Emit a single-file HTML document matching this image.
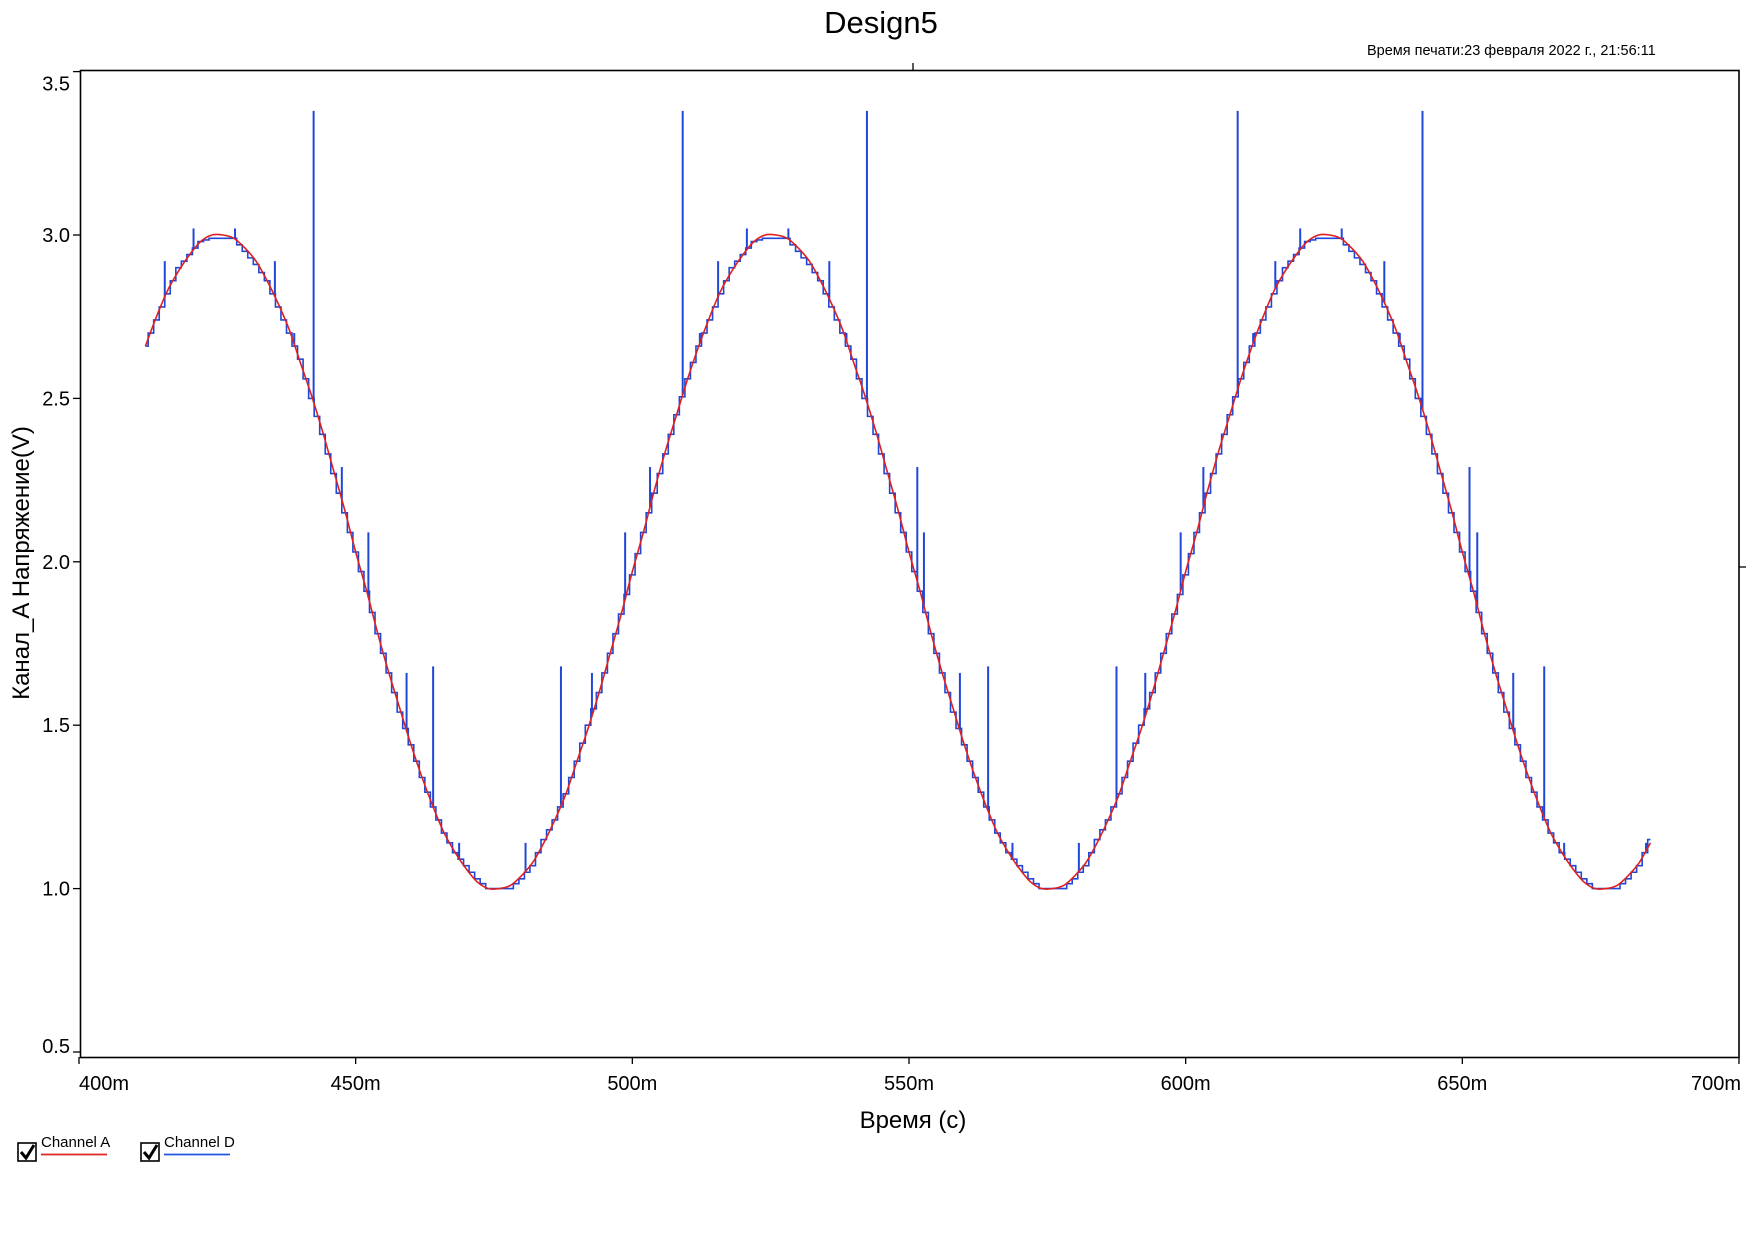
<!DOCTYPE html>
<html><head><meta charset="utf-8">
<style>
html,body{margin:0;padding:0;background:#fff;}
svg{display:block;font-family:"Liberation Sans",sans-serif;}
</style></head>
<body>
<svg id="chart" width="1755" height="1241" viewBox="0 0 1755 1241" xmlns="http://www.w3.org/2000/svg">
<text x="881" y="33" font-size="31" text-anchor="middle" fill="#000">Design5</text>
<text x="1367" y="55" font-size="14.5" fill="#000">Время печати:23 февраля 2022 г., 21:56:11</text>
<rect x="80.5" y="70.5" width="1658.5" height="987" fill="none" stroke="#000" stroke-width="1.6"/>
<line x1="913" y1="63" x2="913" y2="70" stroke="#000" stroke-width="1.3"/>
<line x1="1739" y1="567" x2="1746" y2="567" stroke="#000" stroke-width="1.3"/>
<g id="yticks"></g>
<g id="xticks"></g>
<g id="series"></g>
<text x="913" y="1128" font-size="24" text-anchor="middle" fill="#000">Время (с)</text>
<text transform="translate(29,563) rotate(-90)" font-size="24" text-anchor="middle" fill="#000">Канал_A Напряжение(V)</text>
<g>
<rect x="18" y="1143" width="18" height="18" fill="#fff" stroke="#000" stroke-width="1.6"/>
<path d="M21 1152 L26 1158 L34 1145" fill="none" stroke="#000" stroke-width="3"/>
<text x="41" y="1147" font-size="15" fill="#000">Channel A</text>
<line x1="41" y1="1154.5" x2="107" y2="1154.5" stroke="#e02424" stroke-width="1.8"/>
</g>
<g>
<rect x="141" y="1143" width="18" height="18" fill="#fff" stroke="#000" stroke-width="1.6"/>
<path d="M144 1152 L149 1158 L157 1145" fill="none" stroke="#000" stroke-width="3"/>
<text x="164" y="1147" font-size="15" fill="#000">Channel D</text>
<line x1="164" y1="1154.5" x2="230" y2="1154.5" stroke="#2255dd" stroke-width="1.8"/>
</g>
</svg>
<script>
const yTickValues=[0.5,1.0,1.5,2.0,2.5,3.0,3.5];
const yTickLabels=["0.5","1.0","1.5","2.0","2.5","3.0","3.5"];
const xTickValues=[400,450,500,550,600,650,700];
const xTickLabels=["400m","450m","500m","550m","600m","650m","700m"];
const tStart=412;
const tStep=2;
const channelA=[2.66,2.75,2.83,2.89,2.94,2.98,3.00,3.00,2.99,2.96,2.92,2.86,2.79,2.71,2.61,2.51,2.40,2.28,2.16,2.03,1.91,1.78,1.66,1.55,1.44,1.34,1.25,1.17,1.11,1.06,1.02,1.00,1.00,1.01,1.04,1.08,1.14,1.21,1.29,1.39,1.49,1.60,1.72,1.84,1.97,2.09,2.22,2.34,2.45,2.56,
2.66,2.75,2.83,2.89,2.94,2.98,3.00,3.00,2.99,2.96,2.92,2.86,2.79,2.71,2.61,2.51,2.40,2.28,2.16,2.03,1.91,1.78,1.66,1.55,1.44,1.34,1.25,1.17,1.11,1.06,1.02,1.00,1.00,1.01,1.04,1.08,1.14,1.21,1.29,1.39,1.49,1.60,1.72,1.84,1.97,2.09,2.22,2.34,2.45,2.56,
2.66,2.75,2.83,2.89,2.94,2.98,3.00,3.00,2.99,2.96,2.92,2.86,2.79,2.71,2.61,2.51,2.40,2.28,2.16,2.03,1.91,1.78,1.66,1.55,1.44,1.34,1.25,1.17,1.11,1.06,1.02,1.00,1.00,1.01,1.04,1.08,1.14];
const channelD=[2.66,2.74,2.82,2.90,2.94,2.98,2.99,2.99,2.99,2.95,2.91,2.86,2.78,2.70,2.62,2.50,2.39,2.27,2.15,2.03,1.91,1.78,1.66,1.54,1.44,1.34,1.25,1.17,1.11,1.07,1.03,1.00,1.00,1.00,1.03,1.07,1.15,1.21,1.29,1.39,1.50,1.60,1.72,1.84,1.96,2.09,2.21,2.33,2.45,2.56,
2.66,2.74,2.82,2.90,2.94,2.98,2.99,2.99,2.99,2.95,2.91,2.86,2.78,2.70,2.62,2.50,2.39,2.27,2.15,2.03,1.91,1.78,1.66,1.54,1.44,1.34,1.25,1.17,1.11,1.07,1.03,1.00,1.00,1.00,1.03,1.07,1.15,1.21,1.29,1.39,1.50,1.60,1.72,1.84,1.96,2.09,2.21,2.33,2.45,2.56,
2.66,2.74,2.82,2.90,2.94,2.98,2.99,2.99,2.99,2.95,2.91,2.86,2.78,2.70,2.62,2.50,2.39,2.27,2.15,2.03,1.91,1.78,1.66,1.54,1.44,1.34,1.25,1.17,1.11,1.07,1.03,1.00,1.00,1.00,1.03,1.07,1.15];
const spikeTimes=[442.4,509.1,542.4,609.4,642.8, 452.3,498.7,552.7,599.1,652.7, 464,487.1,564.3,587.5,664.8, 415.5,435.4,515.5,535.6,616.2,635.9, 420.7,428.2,520.7,528.2,620.7,628.2, 447.5,503.2,551.5,603.2,651.3, 468.7,480.7,568.7,580.7,668.4,683.2, 459.2,492.7,559.2,592.7,659.2, 438.9,512.2,538.7,612.2,638.7];
const spikeTops=[3.38,3.38,3.38,3.38,3.38, 2.09,2.09,2.09,2.09,2.09, 1.68,1.68,1.68,1.68,1.68, 2.92,2.92,2.92,2.92,2.92,2.92, 3.02,3.02,3.02,3.02,3.02,3.02, 2.29,2.29,2.29,2.29,2.29, 1.14,1.14,1.14,1.14,1.14,1.14, 1.66,1.66,1.66,1.66,1.66, 2.70,2.70,2.70,2.70,2.70];

const NS="http://www.w3.org/2000/svg";
function X(t){return 79+(t-400)*5.5333;}
function Y(v){return 235-(v-3)*326.8;}
function mk(tag,attrs,parent){const e=document.createElementNS(NS,tag);for(const k in attrs)e.setAttribute(k,attrs[k]);parent.appendChild(e);return e;}

const yg=document.getElementById('yticks');
yTickValues.forEach((v,i)=>{
  const l=mk('line',{x1:73,y1:Y(v),x2:80,y2:Y(v),stroke:'#000','stroke-width':1.3},yg);
  
  
  let ty=Y(v)+7; if(v===3.5) ty=Y(v)+19; if(v===0.5) ty=Y(v)+1;
  const tx=mk('text',{x:70,y:ty,'font-size':20,'text-anchor':'end',fill:'#000'},yg);
  tx.textContent=yTickLabels[i];
  
  
});
const xg=document.getElementById('xticks');
xTickValues.forEach((v,i)=>{
  const l=mk('line',{x1:X(v),y1:1057,x2:X(v),y2:1064,stroke:'#000','stroke-width':1.3},xg);
  
  
  let anchor='middle', xx=X(v);
  if(i===0){anchor='start';xx=X(v);}
  if(i===xTickValues.length-1){anchor='end';xx=X(v)+2;}
  const tx=mk('text',{x:xx,y:1090,'font-size':20,'text-anchor':anchor,fill:'#000'},xg);
  tx.textContent=xTickLabels[i];
  
  
});

const sg=document.getElementById('series');
function tOf(i){return tStart+i*tStep;}
function aAt(t){const f=(t-tStart)/tStep;let i=Math.floor(f);if(i<0)i=0;if(i>=channelA.length-1)i=channelA.length-2;const r=f-i;return channelA[i]*(1-r)+channelA[i+1]*r;}

// Channel D step line (two quantizer steps per sample interval)
let d='M'+X(tOf(0))+' '+Y(channelD[0]);
for(let i=1;i<channelD.length;i++){
  const a0=channelD[i-1],a1=channelD[i];
  const mid=(a0+a1)/2;
  const x1=X(tOf(i)-1.5), x2=X(tOf(i)-0.5);
  d+=' L'+x1+' '+Y(a0)+' L'+x1+' '+Y(mid)+' L'+x2+' '+Y(mid)+' L'+x2+' '+Y(a1);
}
d+=' L'+X(tOf(channelD.length-1))+' '+Y(channelD[channelD.length-1]);
const dp=mk('path',{d:d,fill:'none',stroke:'#1f47d8','stroke-width':1.6},sg);



spikeTimes.forEach((t,i)=>{
  const s=mk('line',{x1:X(t),x2:X(t),y1:Y(spikeTops[i]),y2:Y(aAt(t)),stroke:'#1f47d8','stroke-width':2},sg);
  
  
});

// Channel A smooth line (Catmull-Rom)
const pts=channelA.map((v,i)=>[X(tOf(i)),Y(v)]);
let a='M'+pts[0][0]+' '+pts[0][1];
for(let i=0;i<pts.length-1;i++){
  const p0=pts[Math.max(0,i-1)],p1=pts[i],p2=pts[i+1],p3=pts[Math.min(pts.length-1,i+2)];
  const c1x=p1[0]+(p2[0]-p0[0])/6,c1y=p1[1]+(p2[1]-p0[1])/6;
  const c2x=p2[0]-(p3[0]-p1[0])/6,c2y=p2[1]-(p3[1]-p1[1])/6;
  a+=' C'+c1x+' '+c1y+' '+c2x+' '+c2y+' '+p2[0]+' '+p2[1];
}
const ap=mk('path',{d:a,fill:'none',stroke:'#e02020','stroke-width':1.6},sg);


</script>
</body></html>
